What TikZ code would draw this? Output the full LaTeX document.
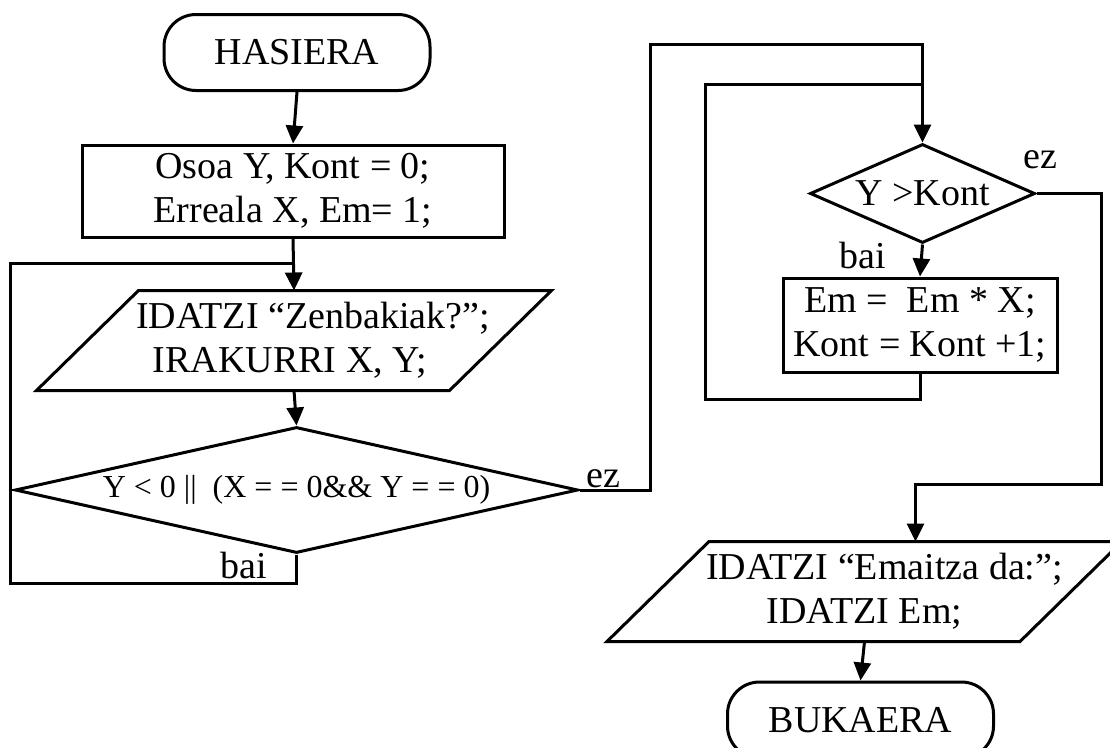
\documentclass[tikz,border=0pt]{standalone}
\usepackage{fontspec}
\setmainfont{Liberation Serif}
\usetikzlibrary{shapes.geometric,arrows.meta}
\begin{document}
\begin{tikzpicture}[x=1pt,y=-1pt,
  line width=3pt,
  every node/.style={font=\fontsize{38}{44}\selectfont, inner sep=0pt},
  term/.style={draw, rectangle, rounded corners=32pt, minimum width=266pt, minimum height=76pt},
  proc/.style={draw, rectangle, align=center},
  io/.style={minimum width=410pt, minimum height=97pt, align=center},
  dec/.style={draw, diamond},
  lbl/.style={anchor=base},
  arr/.style={-{Triangle[length=18pt,width=17pt]}},
  ]
\useasboundingbox (0,0) rectangle (1110,747);
\clip (0,0) rectangle (1110,747);
\fill[white] (0,0) rectangle (1110,747);

% nodes
\node[term] (start) at (297,52.5) {HASIERA};
\node[proc, minimum width=422pt, minimum height=92pt] (init) at (293,191) {Osoa Y, Kont = 0;\\Erreala X, Em= 1;};
\node[io] (read) at (294,340.5) {\hspace*{38pt}IDATZI “Zenbakiak?”;\\IRAKURRI X, Y;\hspace*{8pt}};
\draw ([xshift=51pt]read.north west) -- ([xshift=51pt]read.north east) -- ([xshift=-51pt]read.south east) -- ([xshift=-51pt]read.south west) -- cycle;
\node[dec, shape aspect=4.47, minimum width=563pt, minimum height=126pt, font=\fontsize{32}{38}\selectfont] (cond) at (296.5,490) {Y < 0 || \ (X = = 0\&\& Y = = 0)};
\node[dec, shape aspect=2.27, minimum width=225pt, minimum height=99pt] (loop) at (922.5,193.5) {Y >Kont};
\node[proc, minimum width=274pt, minimum height=94pt] (body) at (920,325) {Em = \ Em * X;\\Kont = Kont +1;};
\node[io] (write) at (864.5,591.5) {\hspace*{40pt}IDATZI “Emaitza da:”;\\IDATZI Em;};
\draw ([xshift=51pt]write.north west) -- ([xshift=51pt]write.north east) -- ([xshift=-51pt]write.south east) -- ([xshift=-51pt]write.south west) -- cycle;
\node[term] (end) at (860.5,720) {BUKAERA};

% labels
\node[lbl] (ez1) at (603,487) {ez};
\node[lbl] (bai1) at (243.5,578) {bai};
\node[lbl] (ez2) at (1040,168) {ez};
\node[lbl] (bai2) at (863,268) {bai};

% bend points
\coordinate (lb) at (10,583);
\coordinate (lt) at (10,263);
\coordinate (ot) at (650,44);
\coordinate (ib) at (705,399);
\coordinate (it) at (705,84);
\coordinate (rb) at (1101,484);

% connectors
\draw[arr] (start.south) -- (init.north);
\draw[arr] (init.south) -- (read.north);
\draw[arr] (read.south) -- (cond.north);
\draw (cond.south) |- (lb) -- (lt) -- (init.south |- lt);
\draw[arr] (cond.east) -| (ot) -| (loop.north);
\draw[arr] (loop.south) -- (body.north);
\draw (body.south) |- (ib) |- (loop.north |- it);
\draw[arr] (loop.east) -| (rb) -| ([xshift=51pt]write.north);
\draw[arr] (write.south) -- (end.north);
\end{tikzpicture}
\end{document}
